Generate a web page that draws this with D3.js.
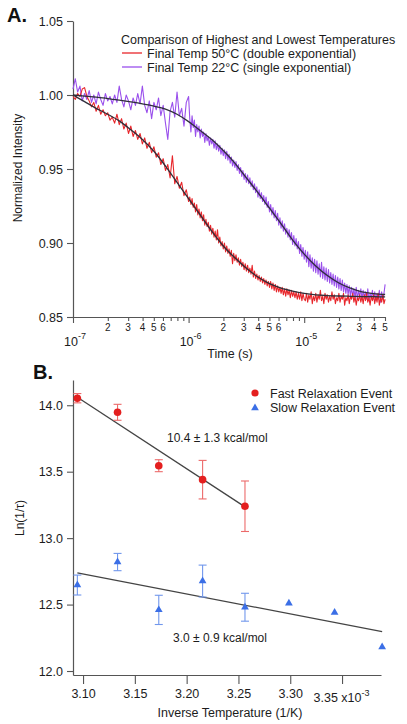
<!DOCTYPE html>
<html><head><meta charset="utf-8">
<script src="https://cdn.jsdelivr.net/npm/d3@7"></script>
<style>
body{margin:0;background:#fff;}
svg{display:block;font-family:"Liberation Sans",Arial,Helvetica,sans-serif;}
</style></head><body>
<svg id="chart" width="407" height="724"></svg>
<script>
// ---------------- Panel A data ----------------
// log10(time in s) sample grid
const timeLog=[-7.00,-6.98,-6.96,-6.94,-6.92,-6.90,-6.88,-6.86,-6.84,-6.82,-6.80,-6.78,-6.76,-6.74,-6.72,-6.70,-6.68,-6.66,-6.64,-6.62,-6.60,-6.58,-6.56,-6.54,-6.52,-6.50,-6.48,-6.46,-6.44,-6.42,-6.40,-6.38,-6.36,-6.34,-6.32,-6.30,-6.28,-6.26,-6.24,-6.22,-6.20,-6.18,-6.16,-6.14,-6.12,-6.10,-6.08,-6.06,-6.04,-6.02,-6.00,
-5.99,-5.98,-5.97,-5.96,-5.95,-5.94,-5.93,-5.92,-5.91,-5.90,-5.89,-5.88,-5.87,-5.86,-5.85,-5.84,-5.83,-5.82,-5.81,-5.80,-5.79,-5.78,-5.77,-5.76,-5.75,-5.74,-5.73,-5.72,-5.71,-5.70,-5.69,-5.68,-5.67,-5.66,-5.65,-5.64,-5.63,-5.62,-5.61,-5.60,-5.59,-5.58,-5.57,-5.56,-5.55,-5.54,-5.53,-5.52,-5.51,-5.50,-5.49,-5.48,-5.47,-5.46,-5.45,-5.44,-5.43,-5.42,-5.41,-5.40,-5.39,-5.38,-5.37,-5.36,-5.35,-5.34,-5.33,-5.32,-5.31,-5.30,-5.29,-5.28,-5.27,-5.26,-5.25,-5.24,-5.23,-5.22,-5.21,-5.20,-5.19,-5.18,-5.17,-5.16,-5.15,-5.14,-5.13,-5.12,-5.11,-5.10,-5.09,-5.08,-5.07,-5.06,-5.05,-5.04,-5.03,-5.02,-5.01,-5.00,
-4.99,-4.98,-4.97,-4.96,-4.95,-4.94,-4.93,-4.92,-4.91,-4.90,-4.89,-4.88,-4.87,-4.86,-4.85,-4.84,-4.83,-4.82,-4.81,-4.80,-4.79,-4.78,-4.77,-4.76,-4.75,-4.74,-4.73,-4.72,-4.71,-4.70,-4.69,-4.68,-4.67,-4.66,-4.65,-4.64,-4.63,-4.62,-4.61,-4.60,-4.59,-4.58,-4.57,-4.56,-4.55,-4.54,-4.53,-4.52,-4.51,-4.50,-4.49,-4.48,-4.47,-4.46,-4.45,-4.44,-4.43,-4.42,-4.41,-4.40,-4.39,-4.38,-4.37,-4.36,-4.35,-4.34,-4.33,-4.32,-4.31,-4.30];

// Final Temp 50 °C trace
const trace50C=[0.999,0.997,1.001,0.999,1.004,1.005,0.999,0.996,0.992,0.995,0.989,0.993,0.987,0.990,0.986,0.988,0.983,0.985,0.981,0.987,0.980,0.984,0.977,0.981,0.974,0.979,0.972,0.976,0.970,0.974,0.967,0.971,0.964,0.968,0.961,0.965,0.958,0.961,0.953,0.957,0.949,0.953,0.944,0.959,0.940,0.945,0.937,0.941,0.932,0.936,0.928,
0.931,0.926,0.930,0.924,0.927,0.921,0.926,0.919,0.923,0.917,
0.921,0.915,0.919,0.912,0.916,0.911,0.914,0.908,0.912,0.906,
0.910,0.904,0.908,0.902,0.909,0.900,0.904,0.898,0.901,0.896,
0.900,0.894,0.898,0.893,0.896,0.891,0.895,0.886,0.893,0.888,
0.892,0.887,0.890,0.885,0.889,0.884,0.887,0.882,0.886,0.881,
0.885,0.880,0.883,0.879,0.885,0.877,0.881,0.876,0.879,0.875,
0.878,0.874,0.877,0.873,0.876,0.872,0.875,0.871,0.874,0.870,
0.874,0.869,0.873,0.868,0.872,0.867,0.871,0.867,0.870,0.866,
0.870,0.865,0.869,0.864,0.869,0.865,0.868,0.863,0.868,0.864,
0.867,0.863,0.867,0.862,0.866,0.862,0.867,0.861,0.866,0.862,
0.861,0.866,0.860,0.865,0.862,0.867,0.859,0.864,0.861,0.866,
0.860,0.865,0.862,0.868,0.861,0.864,0.859,0.866,0.862,0.865,
0.860,0.864,0.861,0.867,0.862,0.865,0.859,0.863,0.861,0.866,
0.860,0.864,0.862,0.866,0.858,0.863,0.861,0.865,0.859,0.864,
0.862,0.866,0.860,0.864,0.858,0.863,0.861,0.865,0.860,0.864,
0.859,0.865,0.861,0.866,0.860,0.863,0.858,0.864,0.861,0.865,
0.859,0.864,0.860,0.866,0.858,0.863,0.860,0.865,0.859,0.862];

// Final Temp 22 °C trace
const trace22C=[1.004,1.011,1.002,1.006,0.996,1.001,0.997,1.003,0.995,1.000,0.994,1.002,0.997,0.993,1.001,0.996,0.999,0.994,1.000,0.995,1.006,0.997,0.992,1.000,0.996,0.990,0.998,0.993,1.001,0.994,1.006,0.993,0.988,0.996,0.984,0.995,0.990,0.998,0.986,0.993,0.981,0.970,0.989,0.995,0.985,1.002,0.986,0.991,0.979,0.995,0.999,
0.984,0.975,0.986,0.978,0.983,0.972,0.980,0.975,0.979,0.971,
0.977,0.972,0.975,0.968,0.974,0.969,0.972,0.966,0.971,0.967,
0.970,0.964,0.969,0.963,0.967,0.962,0.966,0.960,0.964,0.959,
0.963,0.957,0.962,0.956,0.960,0.954,0.958,0.952,0.956,0.951,
0.955,0.949,0.953,0.947,0.951,0.945,0.949,0.943,0.947,0.941,
0.946,0.940,0.944,0.938,0.942,0.936,0.940,0.934,0.938,0.931,
0.936,0.930,0.934,0.928,0.932,0.926,0.931,0.924,0.928,0.921,
0.926,0.919,0.924,0.917,0.922,0.915,0.920,0.912,0.917,0.910,
0.915,0.908,0.913,0.906,0.910,0.904,0.909,0.902,0.907,0.899,
0.905,0.898,0.903,0.896,0.901,0.893,0.899,0.891,0.897,0.889,
0.895,0.887,0.894,0.884,0.892,0.883,0.890,0.881,0.889,0.880,
0.888,0.879,0.886,0.877,0.887,0.876,0.884,0.875,0.883,0.874,
0.882,0.873,0.880,0.872,0.879,0.871,0.878,0.870,0.877,0.869,
0.876,0.868,0.875,0.867,0.873,0.866,0.872,0.865,0.871,0.864,
0.870,0.864,0.869,0.863,0.870,0.862,0.868,0.864,0.869,0.862,
0.868,0.863,0.867,0.862,0.869,0.861,0.866,0.863,0.868,0.862,
0.867,0.861,0.866,0.862,0.868,0.860,0.867,0.862,0.866,0.872];

// fitted curves
const fitLog=[-7.0,-6.9,-6.8,-6.7,-6.6,-6.5,-6.4,-6.3,-6.2,-6.1,-6.0,-5.9,-5.8,-5.7,-5.6,-5.5,-5.4,-5.3,-5.2,-5.1,-5.0,-4.9,-4.8,-4.7,-4.6,-4.5,-4.4,-4.3];
const fit50C=[1.000,0.9955,0.991,0.987,0.9825,0.9765,0.970,0.962,0.952,0.941,0.930,0.919,0.908,0.898,0.890,0.883,0.877,0.8725,0.8695,0.8675,0.866,0.865,0.8645,0.8642,0.864,0.8638,0.8637,0.8636];
const fit22C=[1.000,0.9993,0.9985,0.9976,0.9965,0.9953,0.994,0.9925,0.9905,0.987,0.982,0.976,0.970,0.9625,0.954,0.944,0.934,0.9235,0.913,0.902,0.8925,0.8845,0.878,0.873,0.8695,0.867,0.8658,0.8652];

const yTicksA=[0.85,0.90,0.95,1.00,1.05];
const decadeExp=[-7,-6,-5];
const minorMantissa=[2,3,4,5,6,7,8,9];
const labeledMantissa=[2,3,4,5,6];
const legendTitleA="Comparison of Highest and Lowest Temperatures";
const legendA=["Final Temp 50°C (double exponential)","Final Temp 22°C (single exponential)"];

// ---------------- Panel B data ----------------
const invTemp=[3.0945,3.1333,3.1731,3.2154,3.2563,3.2987,3.3428,3.3887];
const fastLn=[14.053,13.947,13.545,13.44,13.24];
const fastErr=[0.035,0.06,0.045,0.145,0.19];
const slowLn=[12.647,12.82,12.46,12.677,12.48,12.51,12.44,12.18];
const slowErr=[0.075,0.065,0.11,0.12,0.105,0,0,0];
const fastFitX=[3.0945,3.2563];
const fastFitY=[14.06,13.235];
const slowFitX=[3.0945,3.3887];
const slowFitY=[12.739,12.296];
const xTicksB=[3.10,3.15,3.20,3.25,3.30,3.35];
const yTicksB=[12.0,12.5,13.0,13.5,14.0];
const legendB=["Fast Relaxation Event","Slow Relaxation Event"];
const energyLabels=["10.4 ± 1.3 kcal/mol","3.0 ± 0.9 kcal/mol"];

// ---------------- drawing ----------------
const svg=d3.select("#chart");
const AX="#555", TXT="#1c1c1c";
const RED="#e8262b", PURPLE="#9a50ec", FIT="#2f2f3a";

// Panel A
const xA=d3.scaleLog().domain([1e-7,5e-5]).range([73,385]);
const yA=d3.scaleLinear().domain([0.85,1.05]).range([317,21]);
const gA=svg.append("g");

function styleAxis(g){
  g.select(".domain").attr("stroke",AX).attr("stroke-width",1.2);
  g.selectAll(".tick line").attr("stroke",AX).attr("stroke-width",1.1);
  g.selectAll(".tick text").attr("fill",TXT).style("font-family","'Liberation Sans',Arial,sans-serif");
}

const yAxA=gA.append("g").attr("transform","translate(73,0)")
  .call(d3.axisLeft(yA).tickValues(yTicksA).tickFormat(d3.format(".2f")).tickSize(6).tickSizeOuter(0).tickPadding(4));
styleAxis(yAxA); yAxA.selectAll(".tick text").attr("font-size",12.5);

const allTicks=[];
decadeExp.forEach(e=>{
  allTicks.push({v:Math.pow(10,e),major:true,e:e});
  minorMantissa.forEach(m=>{const v=m*Math.pow(10,e); if(v<=5.0001e-5) allTicks.push({v:v,major:false,m:m});});
});
const xAxA=gA.append("g").attr("transform","translate(0,317)")
  .call(d3.axisBottom(xA).tickValues(allTicks.map(d=>d.v)).tickFormat("").tickSize(4).tickSizeOuter(0));
styleAxis(xAxA);
xAxA.selectAll(".tick line").attr("y2",(d)=>{const t=allTicks.find(a=>Math.abs(a.v-d)/d<1e-6);return t&&t.major?6:4;});
// minor labels
gA.selectAll("text.minor").data(allTicks.filter(d=>!d.major&&labeledMantissa.includes(d.m)))
  .enter().append("text").attr("class","minor")
  .attr("x",d=>xA(d.v)).attr("y",331).attr("text-anchor","middle")
  .attr("font-size",10).attr("fill",TXT).text(d=>d.m);
// major labels 10^e
allTicks.filter(d=>d.major).forEach(d=>{
  const t=gA.append("text").attr("x",xA(d.v)+2).attr("y",346).attr("text-anchor","middle")
    .attr("font-size",12.5).attr("fill",TXT);
  t.append("tspan").text("10");
  t.append("tspan").attr("dy",-7).attr("font-size",9).text(String(d.e));
});
gA.append("text").attr("x",230).attr("y",358).attr("text-anchor","middle")
  .attr("font-size",12.5).attr("fill",TXT).text("Time (s)");
gA.append("text").attr("transform","translate(22,168) rotate(-90)").attr("text-anchor","middle")
  .attr("font-size",12).attr("fill",TXT).text("Normalized Intensity");
gA.append("text").attr("x",7).attr("y",22).attr("font-size",20).attr("font-weight","bold")
  .attr("fill","#111").text("A.");

const lineA=d3.line().x(d=>xA(Math.pow(10,d[0]))).y(d=>yA(d[1]));
const n50=Math.min(timeLog.length,trace50C.length), n22=Math.min(timeLog.length,trace22C.length);
gA.append("path").datum(d3.range(n22).map(i=>[timeLog[i],trace22C[i]]))
  .attr("d",lineA).attr("fill","none").attr("stroke",PURPLE).attr("stroke-width",1.1).attr("stroke-linejoin","round");
gA.append("path").datum(d3.range(n50).map(i=>[timeLog[i],trace50C[i]]))
  .attr("d",lineA).attr("fill","none").attr("stroke",RED).attr("stroke-width",1.1).attr("stroke-linejoin","round");
const fitLine=d3.line().curve(d3.curveMonotoneX).x(d=>xA(Math.pow(10,d[0]))).y(d=>yA(d[1]));
gA.append("path").datum(fitLog.map((l,i)=>[l,fit22C[i]])).attr("d",fitLine)
  .attr("fill","none").attr("stroke",FIT).attr("stroke-width",1.3);
gA.append("path").datum(fitLog.map((l,i)=>[l,fit50C[i]])).attr("d",fitLine)
  .attr("fill","none").attr("stroke",FIT).attr("stroke-width",1.3);

// legend A
gA.append("text").attr("x",121).attr("y",44).attr("font-size",12.5).attr("fill",TXT).text(legendTitleA);
[RED,PURPLE].forEach((c,i)=>{
  const y=53+i*14;
  gA.append("line").attr("x1",122).attr("x2",142).attr("y1",y).attr("y2",y).attr("stroke",c).attr("stroke-width",1.3);
  gA.append("text").attr("x",147).attr("y",y+4.5).attr("font-size",12.5).attr("fill",TXT).text(legendA[i]);
});

// Panel B
const xB=d3.scaleLinear().domain([3.0903,3.3876]).range([73,381]);
const yB=d3.scaleLinear().domain([11.97,14.19]).range([675,380]);
const gB=svg.append("g");
const yAxB=gB.append("g").attr("transform","translate(73,0)")
  .call(d3.axisLeft(yB).tickValues(yTicksB).tickFormat(d3.format(".1f")).tickSize(6).tickSizeOuter(0).tickPadding(4));
styleAxis(yAxB); yAxB.selectAll(".tick text").attr("font-size",12.5);
const xAxB=gB.append("g").attr("transform","translate(0,675)")
  .call(d3.axisBottom(xB).tickValues(xTicksB).tickFormat(d3.format(".2f")).tickSize(9).tickSizeOuter(0).tickPadding(5));
styleAxis(xAxB); xAxB.selectAll(".tick text").attr("font-size",12.5);
// last label carries the x10^-3 multiplier
xAxB.selectAll(".tick text").filter(d=>Math.abs(d-3.35)<1e-9).each(function(d){
  const t=d3.select(this); t.text(null).attr("dy","1.05em").attr("dx","-1");
  t.append("tspan").text(d3.format(".2f")(d)+" x10");
  t.append("tspan").attr("dy",-6).attr("font-size",9).text("-3");
});
gB.append("text").attr("x",230).attr("y",717).attr("text-anchor","middle")
  .attr("font-size",12.5).attr("fill",TXT).text("Inverse Temperature (1/K)");
gB.append("text").attr("transform","translate(24,518) rotate(-90)").attr("text-anchor","middle")
  .attr("font-size",12).attr("fill",TXT).text("Ln(1/τ)");
gB.append("text").attr("x",33).attr("y",379).attr("font-size",20).attr("font-weight","bold")
  .attr("fill","#111").text("B.");

// fit lines B
gB.append("line").attr("x1",xB(fastFitX[0])).attr("y1",yB(fastFitY[0])).attr("x2",xB(fastFitX[1])).attr("y2",yB(fastFitY[1]))
  .attr("stroke","#444").attr("stroke-width",1.3);
gB.append("line").attr("x1",xB(slowFitX[0])).attr("y1",yB(slowFitY[0])).attr("x2",xB(slowFitX[1])).attr("y2",yB(slowFitY[1]))
  .attr("stroke","#444").attr("stroke-width",1.3);

const BRED="#e41f1f", BRED_ERR="#ec6a6a", BLUE="#3b6fe6", BLUE_ERR="#7197ec";
function errBar(g,x,y,e,col){
  if(e<=0) return;
  const px=xB(x), y1=yB(y+e), y2=yB(y-e);
  g.append("line").attr("x1",px).attr("x2",px).attr("y1",y1).attr("y2",y2).attr("stroke",col).attr("stroke-width",1.1);
  [y1,y2].forEach(yy=>g.append("line").attr("x1",px-4).attr("x2",px+4).attr("y1",yy).attr("y2",yy).attr("stroke",col).attr("stroke-width",1.1));
}
slowLn.forEach((v,i)=>errBar(gB,invTemp[i],v,slowErr[i],BLUE_ERR));
fastLn.forEach((v,i)=>errBar(gB,invTemp[i],v,fastErr[i],BRED_ERR));
const tri=d3.symbol(d3.symbolTriangle).size(26);
gB.selectAll("path.slow").data(slowLn).enter().append("path").attr("class","slow")
  .attr("d",tri).attr("transform",(d,i)=>`translate(${xB(invTemp[i])},${yB(d)})`).attr("fill",BLUE);
gB.selectAll("circle.fast").data(fastLn).enter().append("circle").attr("class","fast")
  .attr("cx",(d,i)=>xB(invTemp[i])).attr("cy",d=>yB(d)).attr("r",3.8).attr("fill",BRED);

// legend B
gB.append("circle").attr("cx",255).attr("cy",393).attr("r",3.6).attr("fill",BRED);
gB.append("path").attr("d",tri).attr("transform","translate(255,408)").attr("fill",BLUE);
legendB.forEach((s,i)=>gB.append("text").attr("x",270).attr("y",397.5+i*14.5).attr("font-size",12.5).attr("fill",TXT).text(s));

// energy labels
gB.append("text").attr("x",167).attr("y",442).attr("font-size",12).attr("fill",TXT).text(energyLabels[0]);
gB.append("text").attr("x",173).attr("y",642).attr("font-size",12).attr("fill",TXT).text(energyLabels[1]);
</script>
</body></html>
